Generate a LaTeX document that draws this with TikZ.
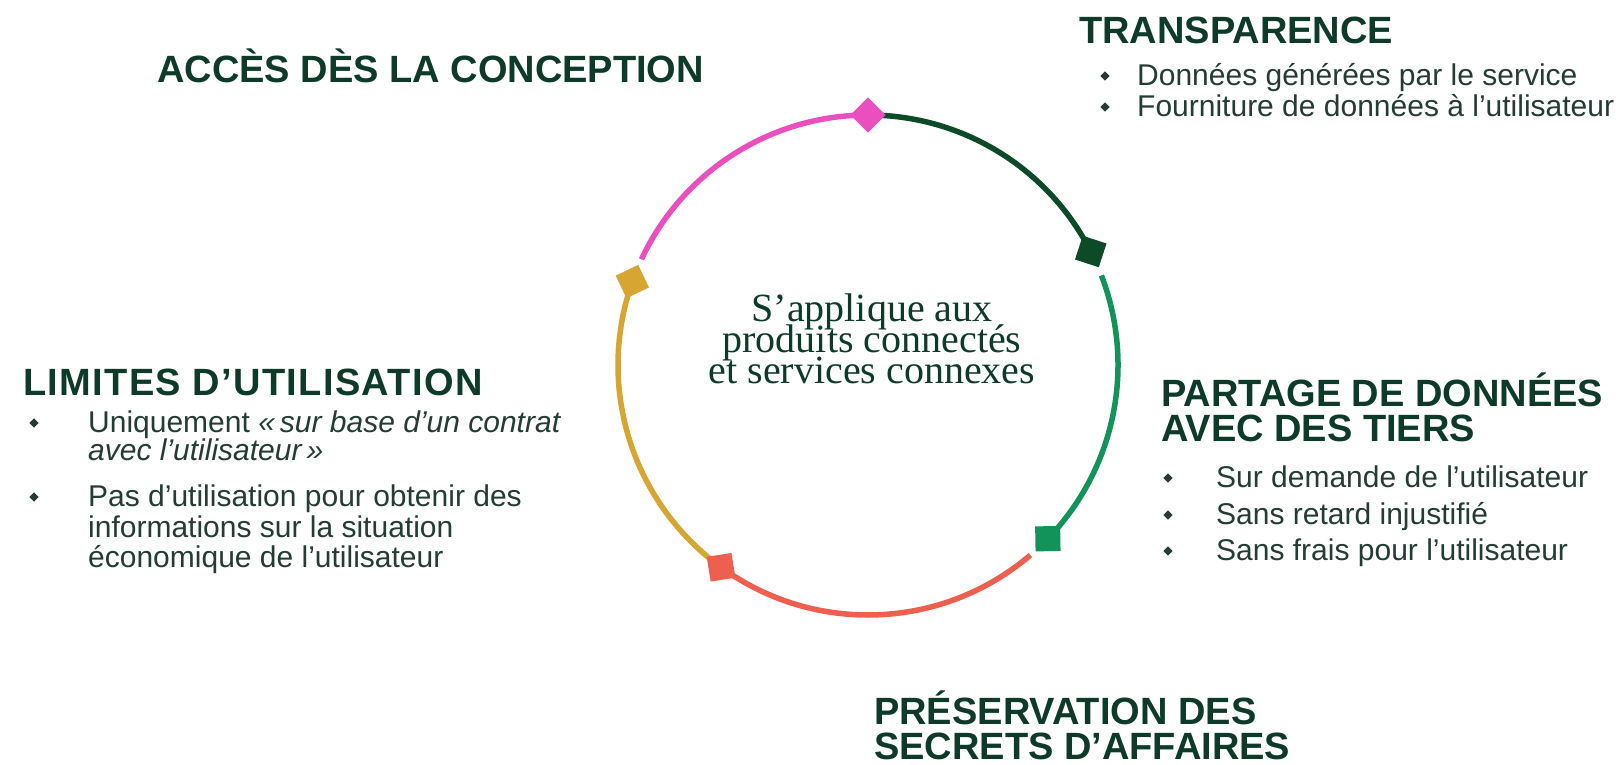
\documentclass[tikz,border=0pt]{standalone}
\usepackage{fontspec}
\setmainfont{Liberation Sans}
\newfontfamily\centerserif{Liberation Serif}
\definecolor{ink}{HTML}{0E3A2A}
\definecolor{bodyink}{HTML}{243C33}
\definecolor{cpink}{HTML}{EA4FC0}
\definecolor{cdark}{HTML}{0D4A28}
\definecolor{cgreen}{HTML}{12935A}
\definecolor{cred}{HTML}{EE5F50}
\definecolor{cyellow}{HTML}{D6A532}
\begin{document}
\begin{tikzpicture}[x=1pt,y=-1pt,
  head/.style={font=\fontsize{38}{34}\selectfont\bfseries, text=ink, inner sep=0, anchor=base west},
  body/.style={font=\fontsize{30}{30}\selectfont, text=bodyink, inner sep=0, anchor=base west},
  ctext/.style={font=\centerserif\fontsize{40}{31}\selectfont, text=ink, inner sep=0, anchor=base},
  bul/.style={rectangle, rotate=45, fill=bodyink, minimum size=6.5pt, inner sep=0},
  seg/.style={line width=5.5pt},
  marker/.style={rectangle, minimum size=25pt, inner sep=0}]
\useasboundingbox (0,0) rectangle (1616,764);
\fill[white] (0,0) rectangle (1616,764);
\coordinate (C) at (868,365);
% arcs
\draw[seg, cpink]   ([shift={(155:250pt)}]C) arc[start angle=155, end angle=90, radius=250pt];
\draw[seg, cdark]   ([shift={(88:250pt)}]C) arc[start angle=88, end angle=27, radius=250pt];
\draw[seg, cgreen]  ([shift={(21:250pt)}]C) arc[start angle=21, end angle=-44, radius=250pt];
\draw[seg, cred]    ([shift={(-49.5:250pt)}]C) arc[start angle=-49.5, end angle=-126, radius=250pt];
\draw[seg, cyellow] ([shift={(-127:250pt)}]C) arc[start angle=-127, end angle=-199.5, radius=250pt];
% markers
\node[marker, fill=cpink, rotate=135] (mpink) at ([shift={(90:250pt)}]C) {};
\node[marker, fill=cdark, rotate=72] (mdark) at ([shift={(27:250pt)}]C) {};
\node[marker, fill=cgreen, rotate=1] (mgreen) at ([shift={(-44:250pt)}]C) {};
\node[marker, fill=cred, rotate=-81] (mred) at ([shift={(-126:250pt)}]C) {};
\node[marker, fill=cyellow, rotate=205.5] (myellow) at ([shift={(160.5:250pt)}]C) {};
% center text
\node[ctext] (c1) at (872,321) {S’applique aux};
\node[ctext] (c2) at (872,352) {produits connectés};
\node[ctext] (c3) at (872,383) {et services connexes};
% headings
\node[head] (acces) at (157,82) {ACCÈS DÈS LA CONCEPTION};
\node[head] (transp) at (1079,43) {TRANSPARENCE};
\node[head, font=\fontsize{38}{34}\selectfont\bfseries\addfontfeatures{LetterSpace=3.5}] (limites) at (23,395) {LIMITES D’UTILISATION};
\node[head] (part1) at (1161,406) {PARTAGE DE DONNÉES};
\node[head] (part2) at (1161,441) {AVEC DES TIERS};
\node[head] (pres1) at (874,724) {PRÉSERVATION DES};
\node[head] (pres2) at (874,759) {SECRETS D’AFFAIRES};
% transparence
\node[body] (t1) at (1137,85) {Données générées par le service};
\node[body] (t2) at (1137,116) {Fourniture de données à l’utilisateur};
\node[bul] (bt1) at (1105,76) {};
\node[bul] (bt2) at (1105,107) {};
% limites
\node[body] (l1a) at (88,432) {Uniquement \textit{«\,sur base d’un contrat}};
\node[body] (l1b) at (88,460) {\textit{avec l’utilisateur\,»}};
\node[body] (l2a) at (88,506) {Pas d’utilisation pour obtenir des};
\node[body] (l2b) at (88,537) {informations sur la situation};
\node[body] (l2c) at (88,567) {économique de l’utilisateur};
\node[bul] (bl1) at (34,423) {};
\node[bul] (bl2) at (34,497) {};
% partage
\node[body] (p1) at (1216,487) {Sur demande de l’utilisateur};
\node[body] (p2) at (1216,524) {Sans retard injustifié};
\node[body] (p3) at (1216,560) {Sans frais pour l’utilisateur};
\node[bul] (bp1) at (1168,478) {};
\node[bul] (bp2) at (1168,515) {};
\node[bul] (bp3) at (1168,551) {};
\end{tikzpicture}
\end{document}
